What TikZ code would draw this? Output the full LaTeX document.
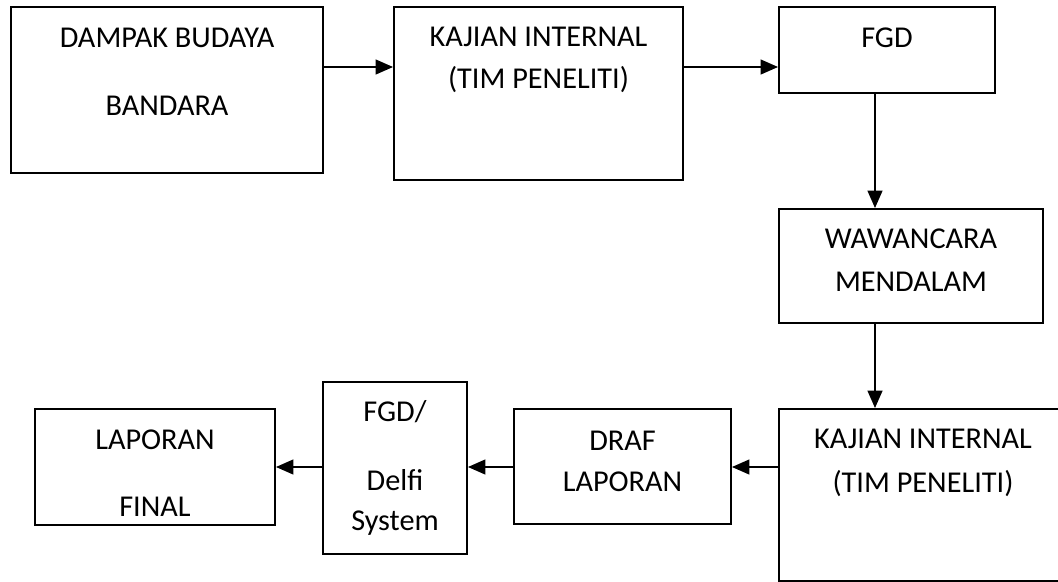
\documentclass[tikz,border=0pt]{standalone}
\usepackage{fontspec}
\setmainfont{Carlito}
\usetikzlibrary{arrows.meta,fit}
\begin{document}
\begin{tikzpicture}[x=0.75pt,y=-0.75pt,
  box/.style={draw,line width=1.4pt,inner sep=0pt,rectangle},
  lbl/.style={anchor=base,inner sep=0pt,font=\fontsize{22.7}{27}\selectfont},
  arr/.style={line width=1.5pt,-{Triangle[length=13pt,width=11pt]}}]
\clip (0,0) rectangle (1058,582);
% boxes
\node[box,fit={(11,7) (323,173)}] (b1) {};
\node[box,fit={(394,7) (683,180)}] (b2) {};
\node[box,fit={(779,7) (995,93)}] (fgd) {};
\node[box,fit={(779,209) (1043,323)}] (waw) {};
\node[box,fit={(779,409) (1067,581)}] (k2) {};
\node[box,fit={(514,409) (731,524)}] (draf) {};
\node[box,fit={(323,382) (467,554)}] (delfi) {};
\node[box,fit={(35,409) (275,525)}] (lap) {};
% labels
\node[lbl] (t1a) at (167,47) {DAMPAK BUDAYA};
\node[lbl] (t1b) at (167,115) {BANDARA};
\node[lbl] (t2a) at (538.5,46) {KAJIAN INTERNAL};
\node[lbl] (t2b) at (538.5,88) {(TIM PENELITI)};
\node[lbl] (t3a) at (887,47) {FGD};
\node[lbl] (t4a) at (911,248) {WAWANCARA};
\node[lbl] (t4b) at (911,291.5) {MENDALAM};
\node[lbl] (t5a) at (923,448) {KAJIAN INTERNAL};
\node[lbl] (t5b) at (923,492) {(TIM PENELITI)};
\node[lbl] (t6a) at (622.5,450) {DRAF};
\node[lbl] (t6b) at (622.5,491) {LAPORAN};
\node[lbl] (t7a) at (395,421) {FGD/};
\node[lbl] (t7b) at (395,490) {Delfi};
\node[lbl] (t7c) at (395,530) {System};
\node[lbl] (t8a) at (155,449) {LAPORAN};
\node[lbl] (t8b) at (155,516) {FINAL};
% connector guides
\coordinate (r1) at (0,67);
\coordinate (r2) at (0,467);
\coordinate (c3) at (875,0);
% connectors
\draw[arr] (b1.east |- r1) -- (b2.west |- r1);
\draw[arr] (b2.east |- r1) -- (fgd.west |- r1);
\draw[arr] (fgd.south -| c3) -- (waw.north -| c3);
\draw[arr] (waw.south -| c3) -- (k2.north -| c3);
\draw[arr] (k2.west |- r2) -- (draf.east |- r2);
\draw[arr] (draf.west |- r2) -- (delfi.east |- r2);
\draw[arr] (delfi.west |- r2) -- (lap.east |- r2);
\end{tikzpicture}
\end{document}
